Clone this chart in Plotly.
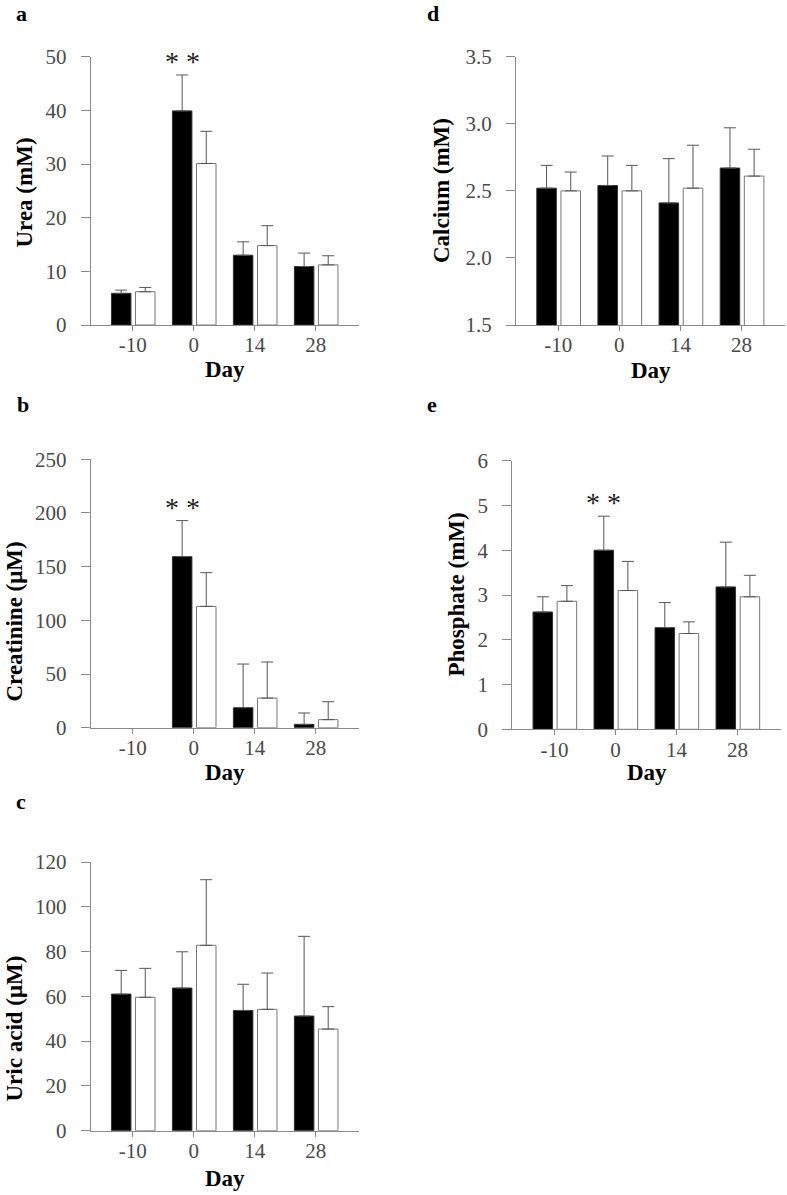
import plotly.graph_objects as go

# ---------------- data ----------------
days = ["-10", "0", "14", "28"]

urea_black = [5.9, 39.9, 13.0, 10.9]
urea_black_sd = [0.6, 6.7, 2.5, 2.5]
urea_white = [6.2, 30.1, 14.8, 11.2]
urea_white_sd = [0.8, 6.0, 3.7, 1.7]

creat_black = [None, 159.3, 18.6, 3.1]
creat_black_sd = [None, 33.6, 40.7, 10.6]
creat_white = [None, 113.0, 27.6, 7.5]
creat_white_sd = [None, 31.4, 33.6, 16.7]

uric_black = [61.0, 63.7, 53.7, 51.2]
uric_black_sd = [10.6, 16.2, 11.7, 35.6]
uric_white = [59.6, 82.8, 54.2, 45.4]
uric_white_sd = [12.9, 29.3, 16.2, 10.0]

calc_black = [2.52, 2.54, 2.41, 2.67]
calc_black_sd = [0.17, 0.22, 0.33, 0.30]
calc_white = [2.50, 2.50, 2.52, 2.61]
calc_white_sd = [0.14, 0.19, 0.32, 0.20]

phos_black = [2.62, 4.00, 2.27, 3.18]
phos_black_sd = [0.34, 0.76, 0.56, 1.00]
phos_white = [2.86, 3.10, 2.14, 2.96]
phos_white_sd = [0.35, 0.65, 0.26, 0.48]

# ---------------- layout helpers ----------------
W, H = 787, 1195
FONT = "Liberation Serif"


def fx(p):
    return p / W


def fy(p):
    return 1 - p / H


panels = [
    dict(letter="a", title="Urea (mM)", b=urea_black, bs=urea_black_sd, w=urea_white, ws=urea_white_sd,
         yr=[0, 50], dt=10, fmt="", xd=(90.7, 359), yd=(56.7, 325), sig=True,
         tx=24, ty=192.5, lx=21.7, ly=14, dayy=369),
    dict(letter="b", title="Creatinine (\u03bcM)", b=creat_black, bs=creat_black_sd, w=creat_white, ws=creat_white_sd,
         yr=[0, 250], dt=50, fmt="", xd=(90.7, 359), yd=(459.3, 727.7), sig=True,
         tx=13.5, ty=622, lx=22.5, ly=404, dayy=773),
    dict(letter="c", title="Uric acid (\u03bcM)", b=uric_black, bs=uric_black_sd, w=uric_white, ws=uric_white_sd,
         yr=[0, 120], dt=20, fmt="", xd=(90.7, 359), yd=(862, 1130.7), sig=False,
         tx=13.5, ty=1029, lx=21.3, ly=801, dayy=1178),
    dict(letter="d", title="Calcium (mM)", b=calc_black, bs=calc_black_sd, w=calc_white, ws=calc_white_sd,
         yr=[1.5, 3.5], dt=0.5, fmt=".1f", xd=(516, 785), yd=(56.7, 325), sig=False,
         tx=442, ty=191, lx=432.7, ly=14, dayy=371),
    dict(letter="e", title="Phosphate (mM)", b=phos_black, bs=phos_black_sd, w=phos_white, ws=phos_white_sd,
         yr=[0, 6], dt=1, fmt="", xd=(512.3, 780.7), yd=(460.7, 729.3), sig=True,
         tx=455.5, ty=594, lx=432, ly=405, dayy=772),
]

xs = list(range(len(days)))
BAR_W = 0.32
BLACK_OFF = -0.35
WHITE_OFF = 0.045
AXC = "#8a8a8a"
TICKC = "#4a4a4a"

fig = go.Figure()
layout = dict(
    width=W, height=H, margin=dict(l=0, r=0, t=0, b=0, pad=0, autoexpand=False),
    paper_bgcolor="white", plot_bgcolor="white",
    showlegend=False, barmode="overlay",
    font=dict(family=FONT, color="#222"),
)
annotations = []

for i, p in enumerate(panels, start=1):
    xa = "x" if i == 1 else f"x{i}"
    ya = "y" if i == 1 else f"y{i}"
    fig.add_trace(go.Bar(
        x=xs, y=p["b"], width=BAR_W, offset=BLACK_OFF,
        marker=dict(color="black", line=dict(color="#333", width=1)),
        error_y=dict(type="data", symmetric=False, array=p["bs"], arrayminus=[0] * 4,
                     color="#555", thickness=1, width=6),
        xaxis=xa, yaxis=ya, hoverinfo="skip",
    ))
    fig.add_trace(go.Bar(
        x=xs, y=p["w"], width=BAR_W, offset=WHITE_OFF,
        marker=dict(color="white", line=dict(color="#777", width=1)),
        error_y=dict(type="data", symmetric=False, array=p["ws"], arrayminus=[0] * 4,
                     color="#555", thickness=1, width=6),
        xaxis=xa, yaxis=ya, hoverinfo="skip",
    ))
    xkey = "xaxis" if i == 1 else f"xaxis{i}"
    ykey = "yaxis" if i == 1 else f"yaxis{i}"
    layout[xkey] = dict(
        domain=[fx(p["xd"][0]), fx(p["xd"][1])], anchor=ya, automargin=False,
        range=[-0.69, 3.71], tickmode="array", tickvals=xs, ticktext=days,
        ticks="outside", ticklen=5, tickcolor=AXC, tickwidth=1,
        showline=True, linecolor=AXC, linewidth=1,
        showgrid=False, zeroline=False, ticklabelstandoff=-4,
        tickfont=dict(family=FONT, size=21, color=TICKC), fixedrange=True,
    )
    layout[ykey] = dict(
        domain=[fy(p["yd"][1]), fy(p["yd"][0])], anchor=xa, automargin=False,
        range=p["yr"], dtick=p["dt"], tick0=p["yr"][0], tickformat=p["fmt"],
        ticks="outside", ticklen=9, tickcolor=AXC, tickwidth=1,
        showline=True, linecolor=AXC, linewidth=1,
        showgrid=False, zeroline=False, ticklabelstandoff=10,
        tickfont=dict(family=FONT, size=21, color=TICKC), fixedrange=True,
    )
    # panel letter
    annotations.append(dict(text=f"<b>{p['letter']}</b>", xref="paper", yref="paper",
                            x=fx(p["lx"]), y=fy(p["ly"]), xanchor="center", yanchor="middle",
                            showarrow=False, font=dict(family=FONT, size=22, color="black")))
    # y title
    annotations.append(dict(text=f"<b>{p['title']}</b>", xref="paper", yref="paper",
                            x=fx(p["tx"]), y=fy(p["ty"]), xanchor="center", yanchor="middle",
                            textangle=-90, showarrow=False,
                            font=dict(family=FONT, size=23, color="black")))
    # x title
    cx = (p["xd"][0] + p["xd"][1]) / 2
    annotations.append(dict(text="<b>Day</b>", xref="paper", yref="paper",
                            x=fx(cx), y=fy(p["dayy"]), xanchor="center", yanchor="middle",
                            showarrow=False, font=dict(family=FONT, size=23, color="black")))
    if p["sig"]:
        annotations.append(dict(text="* *", xref=xa, yref=ya,
                                x=1 + BLACK_OFF + BAR_W / 2, y=p["b"][1] + p["bs"][1],
                                xanchor="center", yanchor="bottom", yshift=-4,
                                showarrow=False, font=dict(family=FONT, size=28, color="#222")))

layout["annotations"] = annotations
fig.update_layout(**layout)
fig.write_html(
    "out.html",
    config={"displayModeBar": False, "staticPlot": True},
    post_script="document.body.style.margin='0';document.body.style.padding='0';",
)
